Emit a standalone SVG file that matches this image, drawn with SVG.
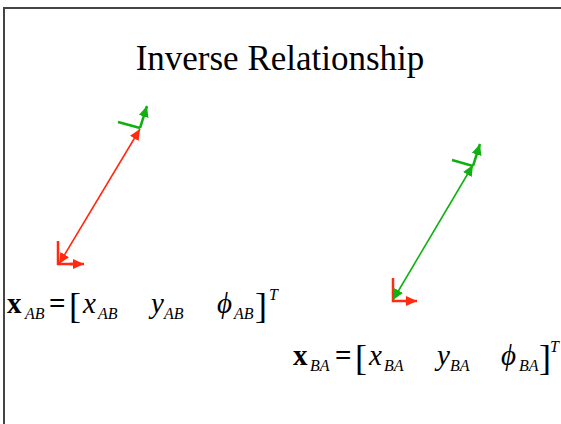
<svg xmlns="http://www.w3.org/2000/svg" width="561" height="424" viewBox="0 0 561 424">
<style>
.ttl{font-family:"Liberation Serif",serif;font-size:35px;fill:#000}
.m{font-family:"Liberation Serif",serif;font-size:29px;fill:#000}
.b{font-weight:bold;font-style:normal}
.i{font-style:italic}
.s{font-family:"Liberation Serif",serif;font-size:16px;font-style:italic;fill:#000}
.br{font-family:"Liberation Serif",serif;font-size:36px;fill:#000}
.red{stroke:#ff2a10;fill:none}
.grn{stroke:#10b010;fill:none}
</style>
<defs>
<marker id="ar" markerUnits="userSpaceOnUse" markerWidth="13" markerHeight="11" refX="11" refY="5" orient="auto-start-reverse" viewBox="0 0 13 10"><path d="M0,0 L11,5 L0,10 Z" fill="#ff2a10"/></marker>
<marker id="ag" markerUnits="userSpaceOnUse" markerWidth="13" markerHeight="11" refX="11" refY="5" orient="auto-start-reverse" viewBox="0 0 13 10"><path d="M0,0 L11,5 L0,10 Z" fill="#10b010"/></marker>
</defs>
<rect x="0" y="0" width="561" height="424" fill="#fff"/>
<path d="M4,424 V8 H561" fill="none" stroke="#444" stroke-width="2"/>
<text class="ttl" x="280" y="70" text-anchor="middle">Inverse Relationship</text>
<g id="frameA">
<path class="red" d="M58,241 V264 H75" stroke-width="2.5"/>
<line class="red" x1="70" y1="264" x2="84" y2="264" stroke-width="2.5" marker-end="url(#ar)"/>
</g>
<g id="frameB1">
<path class="grn" d="M118,122 L140,128" stroke-width="2.5"/>
<line class="grn" x1="140" y1="128" x2="147" y2="106" stroke-width="2.5" marker-end="url(#ag)"/>
</g>
<g id="frameA2">
<path class="red" d="M393,278 V301 H408" stroke-width="2.5"/>
<line class="red" x1="405" y1="301" x2="417" y2="301" stroke-width="2.5" marker-end="url(#ar)"/>
</g>
<g id="frameB2">
<path class="grn" d="M452,160 L473,166" stroke-width="2.5"/>
<line class="grn" x1="473" y1="166" x2="480" y2="144" stroke-width="2.5" marker-end="url(#ag)"/>
</g>
<g id="connectors">
<line class="red" x1="59" y1="264" x2="140" y2="129" stroke-width="1.6" marker-start="url(#ar)" marker-end="url(#ar)"/>
<line class="grn" x1="393" y1="300" x2="473" y2="165" stroke-width="1.6" marker-start="url(#ag)" marker-end="url(#ag)"/>
</g>
<g id="eqAB">
<text class="m b" x="7" y="313">x</text>
<text class="s" x="25" y="319">AB</text>
<text class="m b" x="49" y="313">=</text>
<text class="br" x="69" y="318">[</text>
<text class="m i" x="83" y="313">x</text>
<text class="s" x="98" y="319">AB</text>
<text class="m i" x="151" y="313">y</text>
<text class="s" x="164" y="319">AB</text>
<text class="m i" x="217" y="313">ϕ</text>
<text class="s" x="234" y="319">AB</text>
<text class="br" x="255" y="318">]</text>
<text class="s" x="269" y="300">T</text>
</g>
<g id="eqBA">
<text class="m b" x="293" y="365">x</text>
<text class="s" x="310" y="371">BA</text>
<text class="m b" x="335" y="365">=</text>
<text class="br" x="355" y="370">[</text>
<text class="m i" x="369" y="365">x</text>
<text class="s" x="384" y="371">BA</text>
<text class="m i" x="437" y="365">y</text>
<text class="s" x="450" y="371">BA</text>
<text class="m i" x="501" y="365">ϕ</text>
<text class="s" x="519" y="371">BA</text>
<text class="br" x="539" y="370">]</text>
<text class="s" x="550" y="352">T</text>
</g>
</svg>
